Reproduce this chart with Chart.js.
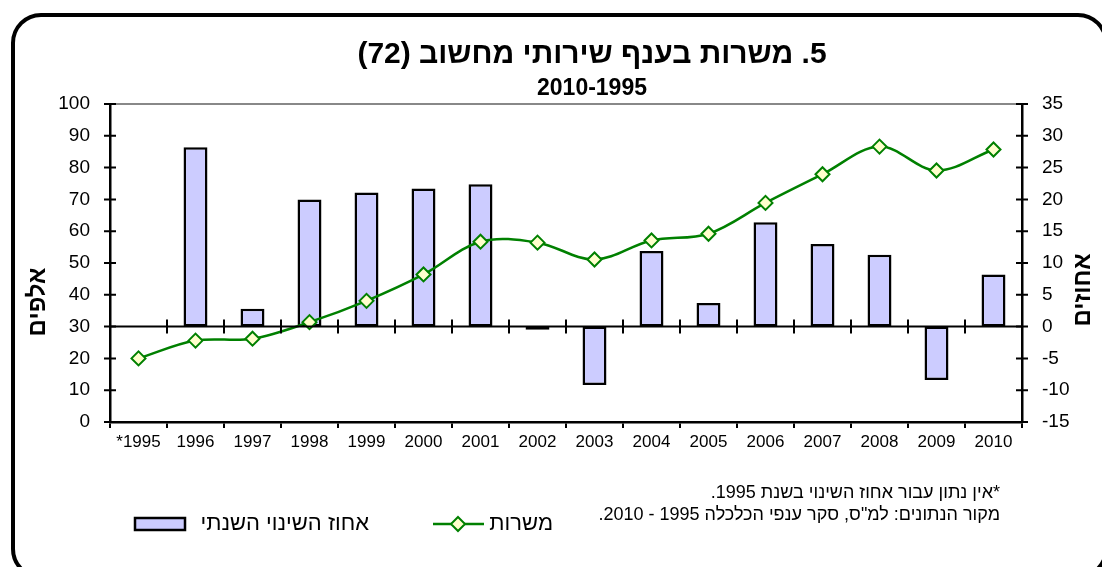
<!DOCTYPE html>
<html lang="he">
<head>
<meta charset="utf-8">
<title>משרות בענף שירותי מחשוב</title>
<script src="https://cdn.jsdelivr.net/npm/chart.js@4.4.1/dist/chart.umd.min.js"></script>
<style>
  html, body { margin: 0; padding: 0; background: #fff; }
  #wrap { position: relative; width: 1102px; height: 567px; }
  canvas { direction: ltr; }
</style>
</head>
<body>
<div id="wrap"><canvas id="jobs_chart" width="1102" height="567"></canvas></div>
<script>
// data
var years = ['*1995', '1996', '1997', '1998', '1999', '2000', '2001', '2002',
             '2003', '2004', '2005', '2006', '2007', '2008', '2009', '2010'];
// jobs, thousands (left axis)
var jobs = [20.0, 25.6, 26.2, 31.4, 38.1, 46.4, 56.7, 56.4,
            51.1, 57.1, 59.2, 68.9, 77.9, 86.6, 79.1, 85.7];
// annual change, percent (right axis); no figure for 1995
var changePct = [null, 28.2, 2.8, 20.0, 21.1, 21.7, 22.4, -0.5,
                 -9.2, 11.9, 3.7, 16.4, 13.0, 11.3, -8.4, 8.2];
var leftTicks = [0, 10, 20, 30, 40, 50, 60, 70, 80, 90, 100];
var rightTicks = [-15, -10, -5, 0, 5, 10, 15, 20, 25, 30, 35];

var title = '5. משרות בענף שירותי מחשוב (72)';
var subTitle = '2010-1995';
var leftTitle = 'אלפים';
var rightTitle = 'אחוזים';
var lineLabel = 'משרות';
var barLabel = 'אחוז השינוי השנתי';
var notes = ['*אין נתון עבור אחוז השינוי בשנת 1995.',
             'מקור הנתונים: למ"ס, סקר ענפי הכלכלה 1995 - 2010.'];

var FONT = '"Liberation Sans", Arial, sans-serif';
var GREEN = '#008000';
var MARKER_FILL = '#ffffcc';
var BAR_FILL = '#ccccff';

var decor = {
    id: 'decor',
    beforeDraw: function (chart) {
        var ctx = chart.ctx;
        ctx.save();
        // rounded outer frame
        ctx.strokeStyle = '#000';
        ctx.lineWidth = 4;
        ctx.beginPath();
        ctx.roundRect(13, 15, 1093, 562, 28);
        ctx.stroke();

        // titles
        ctx.fillStyle = '#000';
        ctx.textAlign = 'center';
        ctx.textBaseline = 'middle';
        ctx.direction = 'rtl';
        ctx.font = 'bold 30px ' + FONT;
        ctx.fillText(title, 592, 55);
        ctx.direction = 'ltr';
        ctx.font = 'bold 23px ' + FONT;
        ctx.fillText(subTitle, 592, 89);

        // axis titles
        ctx.direction = 'rtl';
        ctx.font = 'bold 24px ' + FONT;
        ctx.save();
        ctx.translate(38, 302);
        ctx.rotate(-Math.PI / 2);
        ctx.fillText(leftTitle, 0, 0);
        ctx.restore();
        ctx.save();
        ctx.translate(1083, 290);
        ctx.rotate(-Math.PI / 2);
        ctx.fillText(rightTitle, 0, 0);
        ctx.restore();

        // notes
        ctx.font = '18px ' + FONT;
        ctx.textAlign = 'right';
        ctx.fillText(notes[0], 1000, 493);
        ctx.fillText(notes[1], 1000, 515);

        // legend
        ctx.font = '22px ' + FONT;
        ctx.fillText(lineLabel, 553, 524);
        ctx.strokeStyle = GREEN;
        ctx.lineWidth = 2.5;
        ctx.beginPath();
        ctx.moveTo(433, 524);
        ctx.lineTo(484, 524);
        ctx.stroke();
        ctx.fillStyle = MARKER_FILL;
        ctx.lineWidth = 2;
        ctx.beginPath();
        ctx.moveTo(458, 517);
        ctx.lineTo(465, 524);
        ctx.lineTo(458, 531);
        ctx.lineTo(451, 524);
        ctx.closePath();
        ctx.fill();
        ctx.stroke();
        ctx.fillStyle = '#000';
        ctx.fillText(barLabel, 369, 524);
        ctx.fillStyle = BAR_FILL;
        ctx.strokeStyle = '#000';
        ctx.lineWidth = 2.5;
        ctx.fillRect(135, 518, 50, 12);
        ctx.strokeRect(135, 518, 50, 12);
        ctx.restore();
        ctx.direction = 'ltr';
    },
    afterDatasetsDraw: function (chart) {
        var ctx = chart.ctx;
        var area = chart.chartArea;
        var x = chart.scales.x;
        var y = chart.scales.y;
        var y2 = chart.scales.y2;
        ctx.save();
        // gray top border of plot area
        ctx.strokeStyle = '#888';
        ctx.lineWidth = 2;
        ctx.beginPath();
        ctx.moveTo(area.left, area.top);
        ctx.lineTo(area.right, area.top);
        ctx.stroke();

        ctx.strokeStyle = '#000';
        // zero line of the percent axis with category ticks across it
        var zy = y2.getPixelForValue(0);
        ctx.beginPath();
        ctx.moveTo(area.left, zy);
        ctx.lineTo(area.right, zy);
        var step = x.getPixelForValue(1) - x.getPixelForValue(0);
        for (var i = 1; i < years.length; i++) {
            var bx = x.getPixelForValue(i) - step / 2;
            ctx.moveTo(bx, zy - 7);
            ctx.lineTo(bx, zy + 7);
        }
        ctx.stroke();

        // ticks crossing both value axes
        ctx.beginPath();
        leftTicks.forEach(function (v) {
            var py = y.getPixelForValue(v);
            ctx.moveTo(area.left - 6, py);
            ctx.lineTo(area.left + 6, py);
        });
        rightTicks.forEach(function (v) {
            var py = y2.getPixelForValue(v);
            ctx.moveTo(area.right - 6, py);
            ctx.lineTo(area.right + 6, py);
        });
        ctx.stroke();
        ctx.restore();
    }
};

new Chart(document.getElementById('jobs_chart').getContext('2d'), {
    type: 'bar',
    data: {
        labels: years,
        datasets: [{
            type: 'line',
            label: lineLabel,
            data: jobs,
            yAxisID: 'y',
            order: 0,
            borderColor: GREEN,
            borderWidth: 2.5,
            tension: 0.35,
            pointStyle: 'rectRot',
            pointRadius: 7,
            pointBorderWidth: 2,
            pointBorderColor: GREEN,
            pointBackgroundColor: MARKER_FILL
        }, {
            type: 'bar',
            label: barLabel,
            data: changePct,
            yAxisID: 'y2',
            order: 1,
            backgroundColor: BAR_FILL,
            borderColor: '#000',
            borderWidth: 2.5,
            borderSkipped: false,
            categoryPercentage: 1,
            barPercentage: 0.42
        }]
    },
    options: {
        responsive: false,
        animation: false,
        layout: { padding: { top: 104, bottom: 110, left: 0, right: 0 } },
        plugins: {
            legend: { display: false },
            tooltip: { enabled: false }
        },
        scales: {
            x: {
                offset: true,
                grid: { display: true, offset: true, drawOnChartArea: false, tickLength: 6, color: '#000', lineWidth: 2 },
                border: { display: true, color: '#000', width: 2.5 },
                ticks: { color: '#000', font: { family: FONT, size: 17 }, maxRotation: 0, autoSkip: false, padding: 4 },
                afterFit: function (s) { s.height = 35; }
            },
            y: {
                position: 'left',
                min: 0,
                max: 100,
                grid: { display: false },
                border: { display: true, color: '#000', width: 2.5 },
                ticks: { stepSize: 10, color: '#000', font: { family: FONT, size: 19 }, padding: 12 },
                afterFit: function (s) { s.width = 110; }
            },
            y2: {
                position: 'right',
                min: -15,
                max: 35,
                grid: { display: false },
                border: { display: true, color: '#000', width: 2.5 },
                ticks: { stepSize: 5, color: '#000', font: { family: FONT, size: 19 }, padding: 12 },
                afterFit: function (s) { s.width = 80; }
            }
        }
    },
    plugins: [decor]
});
</script>
</body>
</html>
